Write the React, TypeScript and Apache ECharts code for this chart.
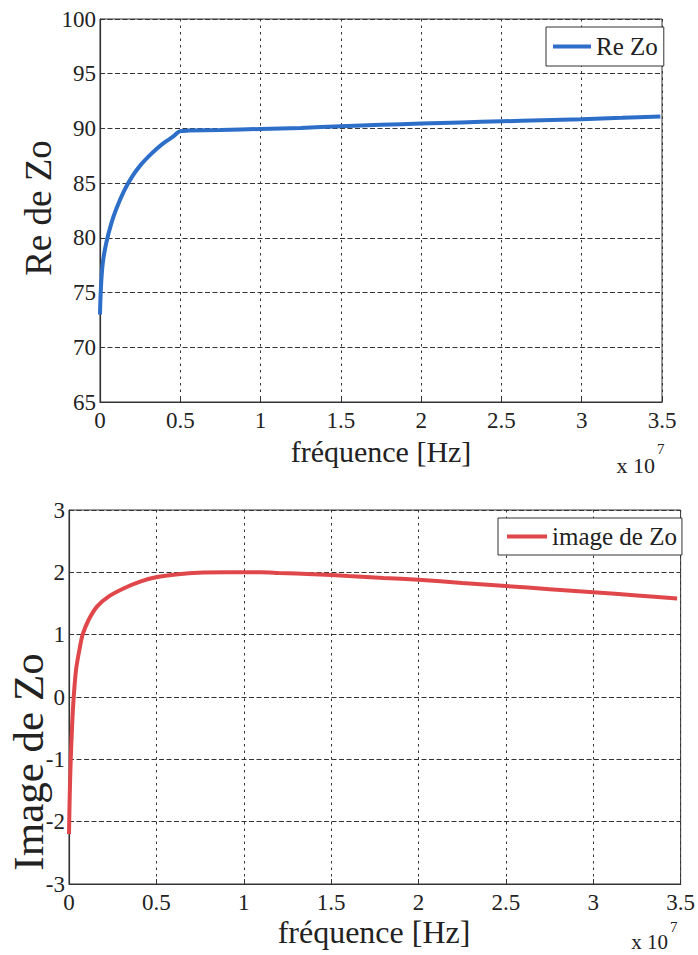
import React, { useEffect, useRef } from "react";
import * as echarts from "echarts";

// frequency in units of 1e7 Hz
const freqRe = [0, 0.003, 0.01, 0.02, 0.04, 0.07, 0.1, 0.15, 0.2, 0.25, 0.3, 0.35, 0.4, 0.45, 0.5, 0.55, 0.75, 1.0, 1.25, 1.5, 1.75, 2.0, 2.25, 2.5, 2.75, 3.0, 3.25, 3.49];
const reZo = [73, 74.5, 76.5, 78, 79.6, 81.3, 82.6, 84.3, 85.6, 86.6, 87.4, 88.1, 88.7, 89.2, 89.75, 89.8, 89.85, 89.95, 90.05, 90.2, 90.33, 90.45, 90.55, 90.65, 90.75, 90.85, 90.97, 91.1];

const freqIm = [0, 0.004, 0.01, 0.018, 0.027, 0.04, 0.059, 0.078, 0.112, 0.16, 0.226, 0.312, 0.407, 0.498, 0.625, 0.74, 0.9, 1.1, 1.2, 1.4, 1.6, 1.8, 2.0, 2.25, 2.5, 2.75, 3.0, 3.25, 3.48];
const imZo = [-2.2, -1.6, -1.0, -0.45, 0, 0.43, 0.75, 1.0, 1.235, 1.45, 1.61, 1.74, 1.85, 1.92, 1.97, 1.995, 2.0, 2.0, 1.99, 1.97, 1.94, 1.91, 1.88, 1.83, 1.78, 1.73, 1.68, 1.63, 1.58];

const xRange = { min: 0, max: 3.5, interval: 0.5 };
const yRangeRe = { min: 65, max: 100, interval: 5 };
const yRangeIm = { min: -3, max: 3, interval: 1 };

const FONT = "Liberation Serif";
const BLUE = "#2d6ec9";
const RED = "#e0474b";

export default function App() {
  const ref = useRef<HTMLDivElement>(null);
  useEffect(() => {
    document.body.style.margin = "0";
    if (!ref.current) return;
    const chart = echarts.init(ref.current, undefined, { renderer: "svg" });

    const xAxisBase = (gridIndex: number) => ({
      type: "value",
      gridIndex,
      ...xRange,
      axisLine: { show: true, onZero: false, lineStyle: { color: "#333", width: 1.2 } },
      axisTick: { show: true, inside: true, length: 5, lineStyle: { color: "#333" } },
      axisLabel: { color: "#222", fontSize: 23, fontFamily: FONT, margin: 7 },
      splitLine: { show: true, lineStyle: { color: "#333", type: [2.5, 4], width: 1 } },
    });
    const yAxisBase = (gridIndex: number, r: any) => ({
      type: "value",
      gridIndex,
      ...r,
      axisLine: { show: true, onZero: false, lineStyle: { color: "#333", width: 1.2 } },
      axisTick: { show: true, inside: true, length: 5, lineStyle: { color: "#333" } },
      axisLabel: { color: "#222", fontSize: 23, fontFamily: FONT, margin: 4 },
      splitLine: { show: true, lineStyle: { color: "#333", type: [5, 2.5], width: 1 } },
    });

    const txt = (text: string, x: number, y: number, size: number, extra: any = {}) => {
      const { align, ...rest } = extra;
      return {
        type: "text",
        x,
        y,
        ...rest,
        style: {
          text,
          fontSize: size,
          fontFamily: FONT,
          fill: "#222",
          align: align || "center",
          verticalAlign: "middle",
        },
      };
    };

    chart.setOption({
      animation: false,
      backgroundColor: "#fff",
      grid: [
        { left: 100, top: 19, width: 562, height: 383, show: true, borderColor: "#333", borderWidth: 1, backgroundColor: "transparent" },
        { left: 69, top: 510, width: 614, height: 374, show: true, borderColor: "#333", borderWidth: 1, backgroundColor: "transparent" },
      ],
      xAxis: [xAxisBase(0), xAxisBase(1)],
      yAxis: [yAxisBase(0, yRangeRe), yAxisBase(1, yRangeIm)],
      legend: [
        {
          data: ["Re Zo"],
          left: 546,
          top: 27,
          orient: "vertical",
          icon: "rect",
          itemWidth: 38,
          itemHeight: 4,
          padding: [7, 6, 7, 7],
          borderColor: "#333",
          borderWidth: 1,
          backgroundColor: "#fff",
          textStyle: { fontSize: 25, fontFamily: FONT, color: "#222" },
        },
        {
          data: ["image de Zo"],
          left: 498,
          top: 518,
          orient: "vertical",
          icon: "rect",
          itemWidth: 40,
          itemHeight: 4,
          padding: [6, 5, 6, 9],
          borderColor: "#333",
          borderWidth: 1,
          backgroundColor: "#fff",
          textStyle: { fontSize: 25, fontFamily: FONT, color: "#222" },
        },
      ],
      series: [
        {
          name: "Re Zo",
          type: "line",
          xAxisIndex: 0,
          yAxisIndex: 0,
          data: freqRe.map((f, i) => [f, reZo[i]]),
          showSymbol: false,
          smooth: 0.3,
          lineStyle: { color: BLUE, width: 4 },
          itemStyle: { color: BLUE },
        },
        {
          name: "image de Zo",
          type: "line",
          xAxisIndex: 1,
          yAxisIndex: 1,
          data: freqIm.map((f, i) => [f, imZo[i]]),
          showSymbol: false,
          smooth: 0.3,
          lineStyle: { color: RED, width: 4 },
          itemStyle: { color: RED },
        },
      ],
      graphic: [
        txt("Re de Zo", 38, 208, 37, { rotation: Math.PI / 2 }),
        txt("Image de Zo", 28, 762, 43, { rotation: Math.PI / 2 }),
        txt("fréquence [Hz]", 381, 451, 30),
        txt("fréquence [Hz]", 374, 932, 32),
        txt("x 10", 655, 465, 22, { align: "right" }),
        txt("7", 657, 449, 15, { align: "left" }),
        txt("x 10", 668, 942, 21, { align: "right" }),
        txt("7", 670, 927, 15, { align: "left" }),
      ],
    });
    return () => chart.dispose();
  }, []);
  return <div ref={ref} style={{ width: 698, height: 955 }} />;
}
